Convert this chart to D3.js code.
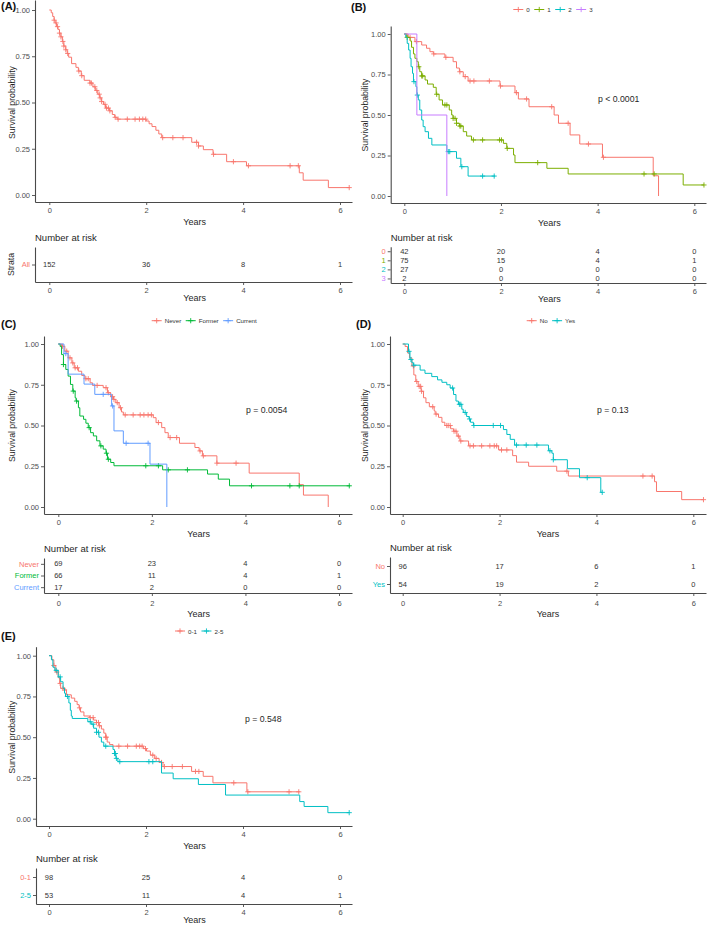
<!DOCTYPE html>
<html><head><meta charset="utf-8">
<script src="https://cdn.jsdelivr.net/npm/d3@7"></script>
<style>body{margin:0;background:#fff}svg{display:block;font-family:"Liberation Sans",Arial,Helvetica,sans-serif}</style>
</head><body><svg id="c" width="709" height="925"></svg>
<script>
// ---------- shared ticks ----------
const yearTicks = [0, 2, 4, 6];
const survTicks = [0, 0.25, 0.5, 0.75, 1];
const riskTimes = [0, 2, 4, 6];

// ---------- Panel A ----------
const aGroups = ["All"];
const aColors = ["#F8766D"];
const aAllSteps = [[0,1],[0.04,0.985],[0.07,0.965],[0.1,0.945],[0.12,0.93],[0.15,0.91],[0.18,0.895],[0.21,0.875],[0.24,0.855],[0.27,0.83],[0.3,0.805],[0.34,0.785],[0.37,0.765],[0.4,0.745],[0.46,0.71],[0.55,0.69],[0.6,0.67],[0.66,0.645],[0.72,0.62],[0.84,0.605],[0.9,0.585],[0.95,0.565],[1.0,0.545],[1.04,0.525],[1.08,0.505],[1.12,0.49],[1.16,0.47],[1.24,0.455],[1.3,0.435],[1.35,0.42],[1.4,0.41],[2.0,0.4],[2.06,0.385],[2.12,0.37],[2.2,0.35],[2.26,0.33],[2.32,0.31],[2.94,0.285],[3.08,0.265],[3.18,0.245],[3.38,0.22],[3.66,0.18],[4.07,0.158],[5.16,0.12],[5.24,0.08],[5.76,0.04]];
const aAllEnd = 6.2;
const aAllCensor = [0.1,0.14,0.17,0.21,0.24,0.28,0.3,0.34,0.38,0.61,0.67,0.84,0.87,0.94,0.98,1.03,1.05,1.08,1.15,1.18,1.22,1.25,1.36,1.42,1.61,1.77,1.86,1.93,1.99,2.34,2.55,2.76,3.04,3.08,3.39,3.8,4.11,4.97,5.14,6.19];
const aAllRisk = [152, 36, 8, 1];

// ---------- Panel B ----------
const bGroups = ["0", "1", "2", "3"];
const bColors = ["#F8766D", "#7CAE00", "#00BFC4", "#C77CFF"];
const b0Steps = [[0,1],[0.08,0.979],[0.22,0.953],[0.36,0.932],[0.46,0.912],[0.53,0.891],[0.6,0.877],[0.84,0.856],[1.01,0.829],[1.08,0.79],[1.14,0.767],[1.22,0.737],[1.32,0.71],[1.98,0.679],[2.29,0.638],[2.36,0.599],[2.58,0.551],[3.1,0.5],[3.19,0.449],[3.43,0.377],[3.63,0.321],[4.1,0.239],[5.15,0.125],[5.26,0]];
const b0End = 5.26;
const b0Censor = [0.12,0.25,0.61,0.86,1.15,1.26,1.36,1.44,1.76,1.99,2.32,2.53,3.05,3.39,3.81,4.12];
const b1Steps = [[0,1],[0.05,0.979],[0.12,0.957],[0.15,0.918],[0.19,0.877],[0.22,0.85],[0.26,0.829],[0.29,0.798],[0.32,0.767],[0.36,0.741],[0.43,0.716],[0.48,0.691],[0.6,0.671],[0.66,0.628],[0.72,0.593],[0.79,0.562],[0.93,0.531],[0.98,0.5],[1.01,0.479],[1.08,0.449],[1.14,0.432],[1.22,0.397],[1.29,0.37],[1.39,0.346],[2.05,0.325],[2.12,0.294],[2.26,0.253],[2.29,0.206],[2.95,0.171],[3.39,0.136],[5.77,0.068]];
const b1End = 6.2;
const b1Censor = [0.06,0.3,0.36,0.38,0.67,0.84,0.88,1.01,1.05,1.08,1.15,1.17,1.43,1.62,1.97,2.01,2.13,2.76,4.96,5.17,6.2];
const b2Steps = [[0,1],[0.03,0.98],[0.06,0.942],[0.09,0.901],[0.12,0.85],[0.14,0.798],[0.17,0.757],[0.19,0.706],[0.24,0.675],[0.26,0.623],[0.29,0.593],[0.32,0.531],[0.36,0.469],[0.39,0.428],[0.43,0.397],[0.5,0.356],[0.57,0.315],[0.88,0.274],[1.08,0.233],[1.17,0.181],[1.32,0.123]];
const b2End = 1.88;
const b2Censor = [0.2,0.27,0.91,0.94,1.19,1.62,1.86];
const b3Steps = [[0,1],[0.26,0.5],[0.88,0]];
const b3End = 0.88;
const b3Censor = [];
const b0Risk = [42, 20, 4, 0];
const b1Risk = [75, 15, 4, 1];
const b2Risk = [27, 0, 0, 0];
const b3Risk = [2, 0, 0, 0];

// ---------- Panel C ----------
const cGroups = ["Never", "Former", "Current"];
const cColors = ["#F8766D", "#00BA38", "#619CFF"];
const cNeverSteps = [[0,1],[0.07,0.986],[0.14,0.956],[0.21,0.915],[0.29,0.884],[0.34,0.854],[0.43,0.833],[0.5,0.807],[0.57,0.787],[0.68,0.762],[0.73,0.746],[0.96,0.732],[1.05,0.701],[1.12,0.677],[1.18,0.66],[1.23,0.64],[1.3,0.609],[1.35,0.583],[1.39,0.565],[2.03,0.548],[2.09,0.518],[2.21,0.487],[2.28,0.456],[2.35,0.426],[2.59,0.391],[2.92,0.365],[3.01,0.344],[3.08,0.314],[3.39,0.269],[4.08,0.208],[5.15,0.137],[5.24,0.073],[5.77,0]];
const cNeverEnd = 5.77;
const cNeverCensor = [0.09,0.18,0.25,0.31,0.36,0.41,0.59,0.64,0.83,1.02,1.07,1.16,1.19,1.26,1.33,1.43,1.6,1.75,1.83,1.92,1.99,2.14,2.39,2.53,3.03,3.1,3.39,3.8];
const cFormerSteps = [[0,1],[0.04,0.986],[0.07,0.935],[0.11,0.874],[0.16,0.844],[0.21,0.803],[0.26,0.752],[0.31,0.711],[0.36,0.67],[0.38,0.65],[0.43,0.609],[0.46,0.558],[0.54,0.538],[0.59,0.514],[0.64,0.487],[0.69,0.456],[0.75,0.436],[0.82,0.406],[0.89,0.375],[0.96,0.355],[1.02,0.33],[1.05,0.293],[1.12,0.273],[1.19,0.253],[2.23,0.228],[3.19,0.202],[3.42,0.171],[3.66,0.13]];
const cFormerEnd = 6.24;
const cFormerCensor = [0.11,0.32,0.39,0.66,0.91,1.03,1.07,1.87,2.14,2.35,2.76,4.13,4.95,5.15,6.22];
const cCurrentSteps = [[0,1],[0.12,0.941],[0.21,0.815],[0.55,0.754],[0.78,0.691],[1.14,0.62],[1.19,0.467],[1.39,0.391],[1.96,0.263],[2.32,0]];
const cCurrentEnd = 2.32;
const cCurrentCensor = [0.16,0.96,1.16,1.45,1.92];
const cNeverRisk = [69, 23, 4, 0];
const cFormerRisk = [66, 11, 4, 1];
const cCurrentRisk = [17, 2, 0, 0];

// ---------- Panel D ----------
const dGroups = ["No", "Yes"];
const dColors = ["#F8766D", "#00BFC4"];
const dNoSteps = [[0,1],[0.05,0.985],[0.1,0.945],[0.14,0.915],[0.19,0.865],[0.23,0.81],[0.27,0.77],[0.32,0.74],[0.38,0.71],[0.43,0.67],[0.48,0.64],[0.55,0.615],[0.65,0.59],[0.67,0.57],[0.74,0.55],[0.81,0.52],[0.87,0.5],[0.99,0.48],[1.05,0.465],[1.12,0.435],[1.18,0.405],[1.36,0.375],[1.98,0.35],[2.27,0.315],[2.35,0.275],[2.6,0.25],[3.18,0.22],[3.42,0.19],[5.2,0.155],[5.24,0.095],[5.76,0.045]];
const dNoEnd = 6.21;
const dNoCensor = [0.22,0.29,0.34,0.37,0.39,0.62,0.69,0.91,0.94,0.98,1.06,1.1,1.15,1.2,1.39,1.46,1.63,1.8,1.89,1.94,2.04,2.15,3.39,4.96,5.15,6.21];
const dYesSteps = [[0,1],[0.12,0.955],[0.15,0.905],[0.19,0.885],[0.22,0.87],[0.36,0.84],[0.46,0.82],[0.6,0.8],[0.72,0.78],[0.81,0.765],[0.91,0.75],[0.98,0.73],[1.05,0.69],[1.1,0.65],[1.15,0.63],[1.22,0.6],[1.25,0.58],[1.32,0.555],[1.37,0.54],[1.4,0.52],[1.46,0.5],[2.08,0.475],[2.15,0.445],[2.22,0.415],[2.31,0.38],[3.01,0.345],[3.08,0.33],[3.11,0.29],[3.4,0.235],[3.65,0.18],[4.09,0.09]];
const dYesEnd = 4.12;
const dYesCensor = [0.13,0.17,0.23,1.03,1.17,1.2,1.29,1.38,1.47,1.87,2.02,2.35,2.55,2.77,3.04,3.11,3.81,4.12];
const dNoRisk = [96, 17, 6, 1];
const dYesRisk = [54, 19, 2, 0];

// ---------- Panel E ----------
const eGroups = ["0-1", "2-5"];
const eColors = ["#F8766D", "#00BFC4"];
const e01Steps = [[0,1],[0.06,0.975],[0.1,0.94],[0.14,0.9],[0.19,0.865],[0.22,0.83],[0.24,0.8],[0.32,0.79],[0.36,0.76],[0.46,0.74],[0.53,0.72],[0.58,0.7],[0.62,0.68],[0.65,0.655],[0.72,0.63],[0.84,0.62],[0.92,0.605],[0.98,0.59],[1.03,0.57],[1.08,0.55],[1.13,0.525],[1.17,0.5],[1.2,0.47],[1.25,0.455],[1.32,0.445],[1.95,0.43],[2.01,0.415],[2.09,0.39],[2.18,0.37],[2.27,0.345],[2.35,0.32],[2.94,0.29],[3.18,0.26],[3.38,0.22],[4.08,0.165]];
const e01End = 5.17;
const e01Censor = [0.1,0.16,0.23,0.29,0.32,0.63,0.85,0.91,0.98,1.02,1.04,1.17,1.18,1.44,1.62,1.8,1.87,1.92,1.99,2.14,2.21,2.32,2.38,2.54,2.75,3.02,3.09,3.81,4.1,4.95,5.15];
const e25Steps = [[0,1],[0.05,0.975],[0.08,0.93],[0.12,0.91],[0.19,0.87],[0.24,0.84],[0.29,0.8],[0.32,0.77],[0.34,0.75],[0.41,0.71],[0.44,0.665],[0.46,0.63],[0.48,0.615],[0.8,0.595],[0.87,0.58],[0.92,0.555],[0.98,0.53],[1.03,0.5],[1.08,0.47],[1.13,0.445],[1.32,0.425],[1.35,0.4],[1.38,0.37],[1.42,0.35],[2.32,0.28],[2.56,0.245],[3.08,0.21],[3.64,0.145],[5.17,0.105],[5.26,0.075],[5.75,0.037]];
const e25End = 6.19;
const e25Censor = [0.15,0.23,0.38,0.85,0.91,0.98,1.02,1.17,1.35,1.37,1.39,1.46,2.06,2.14,6.19];
const e01Risk = [98, 25, 4, 0];
const e25Risk = [53, 11, 4, 1];

// ---------- layout (positions only) ----------
const panels = [
  {label:"(A)", lx:1, ly:9.5, axX:35, right:352, x0:49.3, x6:340, top:0, y1:10, y0:195, axY:202, ytX:12,
   riskTop:247, riskBottom:282, riskPad:3, riskYears:16, strata:true, legend:null, p:null,
   groups:aGroups, colors:aColors,
   curves:[{steps:aAllSteps,end:aAllEnd,censor:aAllCensor}], risk:[aAllRisk]},
  {label:"(B)", lx:351, ly:10.5, axX:390.7, right:706, x0:404.3, x6:694.3, top:26, y1:34, y0:196, axY:203, ytX:365,
   riskTop:246.7, riskBottom:283, riskPad:3, riskYears:16, strata:false, legend:{x:513.3,y:9.5}, p:{text:"p < 0.0001",x:598,y:99},
   groups:bGroups, colors:bColors,
   curves:[{steps:b0Steps,end:b0End,censor:b0Censor},{steps:b1Steps,end:b1End,censor:b1Censor},{steps:b2Steps,end:b2End,censor:b2Censor},{steps:b3Steps,end:b3End,censor:b3Censor}],
   risk:[b0Risk,b1Risk,b2Risk,b3Risk]},
  {label:"(C)", lx:1, ly:328, axX:44, right:352, x0:58.3, x6:339, top:336, y1:344, y0:507, axY:514, ytX:12,
   riskTop:558, riskBottom:593, riskPad:4.5, riskYears:21, strata:false, legend:{x:151.7,y:320.7}, p:{text:"p = 0.0054",x:246,y:410},
   groups:cGroups, colors:cColors,
   curves:[{steps:cNeverSteps,end:cNeverEnd,censor:cNeverCensor},{steps:cFormerSteps,end:cFormerEnd,censor:cFormerCensor},{steps:cCurrentSteps,end:cCurrentEnd,censor:cCurrentCensor}],
   risk:[cNeverRisk,cFormerRisk,cCurrentRisk]},
  {label:"(D)", lx:356, ly:328, axX:390, right:706, x0:402.7, x6:693.3, top:336, y1:344, y0:507, axY:514, ytX:365,
   riskTop:557, riskBottom:593, riskPad:4.5, riskYears:21, strata:false, legend:{x:526.7,y:320.7}, p:{text:"p = 0.13",x:597,y:410},
   groups:dGroups, colors:dColors,
   curves:[{steps:dNoSteps,end:dNoEnd,censor:dNoCensor},{steps:dYesSteps,end:dYesEnd,censor:dYesCensor}],
   risk:[dNoRisk,dYesRisk]},
  {label:"(E)", lx:1, ly:640, axX:36, right:352, x0:49, x6:340, top:646.7, y1:655.7, y0:818.7, axY:826, ytX:12,
   riskTop:868, riskBottom:904, riskPad:3, riskYears:16, strata:false, legend:{x:175,y:631}, p:{text:"p = 0.548",x:245,y:719},
   groups:eGroups, colors:eColors,
   curves:[{steps:e01Steps,end:e01End,censor:e01Censor},{steps:e25Steps,end:e25End,censor:e25Censor}],
   risk:[e01Risk,e25Risk]}
];

const svg = d3.select("#c");
const AX = "#4a4a4a", TXT = "#4d4d4d", TITLE = "#1f1f1f";

function survAt(steps, t) {
  let s = 1;
  for (const [tt, v] of steps) { if (tt <= t + 1e-9) s = v; else break; }
  return s;
}
function styleAxis(g) {
  g.select(".domain").attr("stroke", AX).attr("stroke-width", 1.1);
  g.selectAll(".tick line").attr("stroke", AX).attr("stroke-width", 0.9);
  g.selectAll(".tick text").attr("fill", TXT).attr("font-size", 7.5);
  g.attr("font-family", null);
}
const plusPath = "M-2.6,0H2.6M0,-2.6V2.6";
const yearFmt = d3.format("d");

panels.forEach(p => {
  const g = svg.append("g");
  // scales
  const x = d3.scaleLinear().domain([0, 6]).range([p.x0, p.x6]);
  x.domain([x.invert(p.axX), x.invert(p.right)]).range([p.axX, p.right]);
  const y = d3.scaleLinear().domain([0, 1]).range([p.y0, p.y1]);
  y.domain([y.invert(p.axY), y.invert(p.top)]).range([p.axY, p.top]);

  // panel label
  g.append("text").attr("x", p.lx).attr("y", p.ly).attr("font-size", 11).attr("font-weight", "bold")
    .attr("fill", "#111").text(p.label);

  // axes
  g.append("g").attr("transform", `translate(0,${p.axY})`)
    .call(d3.axisBottom(x).tickValues(yearTicks).tickFormat(yearFmt).tickSize(3).tickSizeOuter(0).tickPadding(3))
    .call(styleAxis);
  g.append("g").attr("transform", `translate(${p.axX},0)`)
    .call(d3.axisLeft(y).tickValues(survTicks).tickFormat(d3.format(".2f")).tickSize(3).tickSizeOuter(0).tickPadding(2))
    .call(styleAxis);

  // axis titles
  g.append("text").attr("x", (x(0) + x(6)) / 2).attr("y", p.axY + 20).attr("text-anchor", "middle")
    .attr("dominant-baseline", "central").attr("font-size", 9).attr("fill", TITLE).text("Years");
  g.append("text").attr("transform", `translate(${p.ytX},${(y(0) + y(1)) / 2}) rotate(-90)`)
    .attr("text-anchor", "middle").attr("dominant-baseline", "central").attr("font-size", 8.7)
    .attr("fill", TITLE).text("Survival probability");

  // curves
  const line = d3.line().x(d => x(d[0])).y(d => y(d[1])).curve(d3.curveStepAfter);
  p.curves.forEach((c, i) => {
    const pts = c.steps.concat([[c.end, c.steps[c.steps.length - 1][1]]]);
    g.append("path").attr("d", line(pts)).attr("fill", "none").attr("stroke", p.colors[i]).attr("stroke-width", 1);
    g.selectAll(null).data(c.censor).enter().append("path")
      .attr("transform", t => `translate(${x(t)},${y(survAt(c.steps, t))})`)
      .attr("d", plusPath).attr("stroke", p.colors[i]).attr("stroke-width", 0.9).attr("fill", "none");
  });

  // p value
  if (p.p) {
    g.append("text").attr("x", p.p.x).attr("y", p.p.y).attr("dominant-baseline", "central")
      .attr("font-size", 8.7).attr("fill", TITLE).text(p.p.text);
  }

  // legend
  if (p.legend) {
    let lx = p.legend.x;
    p.groups.forEach((name, i) => {
      const lg = g.append("g");
      lg.append("line").attr("x1", lx).attr("x2", lx + 10).attr("y1", p.legend.y).attr("y2", p.legend.y)
        .attr("stroke", p.colors[i]).attr("stroke-width", 1);
      lg.append("path").attr("transform", `translate(${lx + 5},${p.legend.y})`).attr("d", plusPath)
        .attr("stroke", p.colors[i]).attr("stroke-width", 0.9);
      const t = lg.append("text").attr("x", lx + 13).attr("y", p.legend.y).attr("dominant-baseline", "central")
        .attr("font-size", 6.2).attr("fill", "#333").text(name);
      lx = lx + 13 + t.node().getComputedTextLength() + 4.5;
    });
  }

  // risk table
  g.append("text").attr("x", p.axX).attr("y", p.riskTop - 9.5).attr("dominant-baseline", "central")
    .attr("font-size", 9.5).attr("fill", TITLE).text("Number at risk");
  const ry = d3.scalePoint().domain(p.groups).range([p.riskTop, p.riskBottom]).padding(0.5);
  g.append("g").attr("transform", `translate(0,${p.riskBottom})`)
    .call(d3.axisBottom(x).tickValues(yearTicks).tickFormat(yearFmt).tickSize(3).tickSizeOuter(0).tickPadding(p.riskPad))
    .call(styleAxis);
  const ryAxis = g.append("g").attr("transform", `translate(${p.axX},0)`)
    .call(d3.axisLeft(ry).tickSize(3).tickSizeOuter(0).tickPadding(2))
    .call(styleAxis);
  ryAxis.selectAll(".tick text").attr("fill", (d, i) => p.colors[i]).attr("font-size", 7.5);
  g.append("text").attr("x", (x(0) + x(6)) / 2).attr("y", p.riskBottom + p.riskYears).attr("text-anchor", "middle")
    .attr("dominant-baseline", "central").attr("font-size", 9).attr("fill", TITLE).text("Years");
  if (p.strata) {
    g.append("text").attr("transform", `translate(11,${(p.riskTop + p.riskBottom) / 2}) rotate(-90)`)
      .attr("text-anchor", "middle").attr("dominant-baseline", "central").attr("font-size", 8.7)
      .attr("fill", TITLE).text("Strata");
  }
  p.groups.forEach((name, i) => {
    g.selectAll(null).data(riskTimes).enter().append("text")
      .attr("x", t => x(t)).attr("y", ry(name)).attr("text-anchor", "middle").attr("dominant-baseline", "central")
      .attr("font-size", 7.5).attr("fill", "#333").text((t, j) => p.risk[i][j]);
  });
});
</script></body></html>
